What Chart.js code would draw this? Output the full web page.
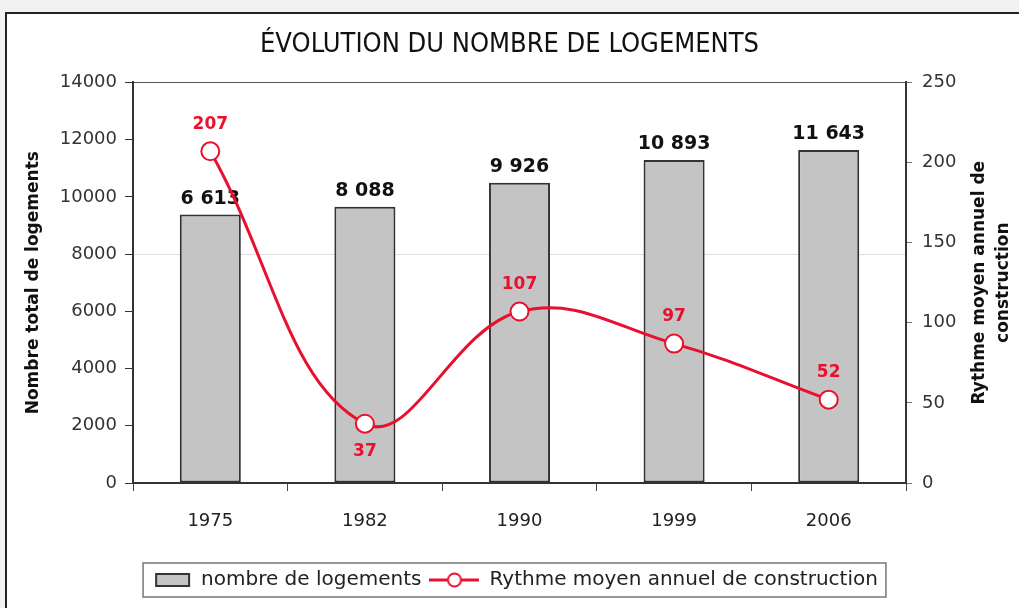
<!DOCTYPE html>
<html>
<head>
<meta charset="utf-8">
<script src="https://cdn.jsdelivr.net/npm/chart.js@4/dist/chart.umd.min.js"></script>
<style>
  html, body { margin: 0; padding: 0; background: #f1f1f1; }
  #frame { position: absolute; left: 5px; top: 12px; width: 1030px; height: 620px; border: 2px solid #222; background: #fff; }
  #wrap { position: absolute; left: 0; top: 0; width: 1019px; height: 608px; }
</style>
</head>
<body>
<div id="frame"></div>
<div id="wrap"><canvas id="myChart"></canvas></div>
<script>
const years = ["1975", "1982", "1990", "1999", "2006"];
// bar heights as drawn in the picture, and the labels printed above them
const logements = [9380, 9650, 10490, 11290, 11640];
const logementsLabels = ["6 613", "8 088", "9 926", "10 893", "11 643"];
const rythme = [207, 37, 107, 87, 52];
const rythmeLabels = ["207", "37", "107", "97", "52"];

const FONT = '"DejaVu Sans", sans-serif';
const RED = '#e8102e';

// legend swatches
function barSwatch() {
  const c = document.createElement('canvas');
  c.width = 50; c.height = 18;
  const g = c.getContext('2d');
  g.fillStyle = '#c4c4c4';
  g.fillRect(14, 2, 35, 14);
  g.strokeStyle = '#333';
  g.lineWidth = 2;
  g.strokeRect(15, 3, 33, 12);
  return c;
}
function lineSwatch() {
  const c = document.createElement('canvas');
  c.width = 50; c.height = 18;
  const g = c.getContext('2d');
  g.strokeStyle = RED;
  g.lineWidth = 3;
  g.beginPath(); g.moveTo(0, 9); g.lineTo(50, 9); g.stroke();
  g.fillStyle = '#fff';
  g.lineWidth = 2;
  g.beginPath(); g.arc(25, 9, 6.5, 0, Math.PI * 2); g.fill(); g.stroke();
  return c;
}
const swatches = [barSwatch(), lineSwatch()];

const valueLabels = {
  id: 'valueLabels',
  afterDatasetDraw(chart, args) {
    const ctx = chart.ctx;
    const meta = chart.getDatasetMeta(args.index);
    ctx.save();
    ctx.textAlign = 'center';
    if (args.index === 0) {
      ctx.font = 'bold 19px ' + FONT;
      ctx.fillStyle = '#111';
      ctx.textBaseline = 'alphabetic';
      meta.data.forEach((bar, i) => ctx.fillText(logementsLabels[i], bar.x, bar.y - 11));
    } else {
      ctx.font = 'bold 17px ' + FONT;
      ctx.fillStyle = RED;
      ctx.textBaseline = 'middle';
      meta.data.forEach((pt, i) => {
        const prev = rythme[i - 1], next = rythme[i + 1];
        const low = prev !== undefined && next !== undefined && rythme[i] < prev && rythme[i] < next;
        ctx.fillText(rythmeLabels[i], pt.x, low ? pt.y + 28 : pt.y - 27);
      });
    }
    ctx.restore();
  },
  afterDraw(chart) {
    const ctx = chart.ctx;
    const area = chart.chartArea;
    // right axis title, reading bottom to top
    ctx.save();
    ctx.translate(992, (area.top + area.bottom) / 2);
    ctx.rotate(-Math.PI / 2);
    ctx.font = 'bold 17px ' + FONT;
    ctx.fillStyle = '#111';
    ctx.textAlign = 'center';
    ctx.textBaseline = 'middle';
    ctx.fillText('Rythme moyen annuel de', 0, -12);
    ctx.fillText('construction', 0, 12);
    ctx.restore();
    // legend frame
    const boxes = chart.legend.legendHitBoxes;
    if (boxes && boxes.length) {
      const l = Math.min(...boxes.map(b => b.left)) + 2;
      const r = Math.max(...boxes.map(b => b.left + b.width)) + 8;
      const t = Math.min(...boxes.map(b => b.top)) - 7;
      const b = Math.max(...boxes.map(b => b.top + b.height)) + 7;
      ctx.save();
      ctx.strokeStyle = '#777';
      ctx.lineWidth = 1.5;
      ctx.strokeRect(l, t, r - l, b - t);
      ctx.restore();
    }
  }
};

const data = {
  labels: years,
  datasets: [{
    type: 'bar',
    label: 'nombre de logements',
    data: logements,
    yAxisID: 'y',
    backgroundColor: '#c4c4c4',
    borderColor: '#333',
    borderWidth: 2,
    borderSkipped: false,
    barPercentage: 0.395,
    categoryPercentage: 1,
    order: 1
  }, {
    type: 'line',
    label: 'Rythme moyen annuel de construction',
    data: rythme,
    yAxisID: 'y1',
    borderColor: RED,
    borderWidth: 3,
    tension: 0.4,
    pointRadius: 9,
    pointBackgroundColor: '#fff',
    pointBorderColor: RED,
    pointBorderWidth: 2,
    order: 0
  }]
};

const config = {
  data: data,
  plugins: [valueLabels],
  options: {
    responsive: true,
    maintainAspectRatio: false,
    animation: false,
    layout: { padding: { top: 0, left: 0, right: 0, bottom: 8 } },
    plugins: {
      tooltip: { enabled: false },
      title: {
        display: true,
        text: 'ÉVOLUTION DU NOMBRE DE LOGEMENTS',
        color: '#111',
        font: { family: '"Liberation Sans Narrow", "DejaVu Sans Condensed", sans-serif', size: 27, weight: 'normal' },
        padding: { top: 29, bottom: 21 }
      },
      legend: {
        position: 'bottom',
        labels: {
          usePointStyle: true,
          pointStyleWidth: 50,
          padding: 8,
          color: '#222',
          font: { family: FONT, size: 20 },
          sort: (a, b) => a.datasetIndex - b.datasetIndex,
          generateLabels(chart) {
            const items = Chart.defaults.plugins.legend.labels.generateLabels(chart);
            items.forEach(it => { it.pointStyle = swatches[it.datasetIndex]; });
            return items;
          }
        }
      }
    },
    scales: {
      x: {
        grid: { offset: true, drawOnChartArea: false, tickLength: 8, color: '#444' },
        border: { color: '#333', width: 2 },
        ticks: { color: '#222', font: { family: FONT, size: 18 }, padding: 20 },
        afterFit(s) { s.height = 79; }
      },
      y: {
        position: 'left',
        min: 0,
        max: 14000,
        ticks: { stepSize: 2000, color: '#333', font: { family: FONT, size: 18 }, padding: 8, callback: v => String(v) },
        grid: {
          color: c => c.tick && c.tick.value === 14000 ? '#555' : (c.tick && c.tick.value === 8000 ? '#dedede' : 'rgba(0,0,0,0)'),
          tickColor: '#333',
          tickLength: 8
        },
        border: { color: '#333', width: 2 },
        title: {
          display: true,
          text: 'Nombre total de logements',
          color: '#111',
          font: { family: FONT, size: 17, weight: 'bold' },
          padding: { top: 23, bottom: 0 }
        },
        afterFit(s) { s.width = 133; }
      },
      y1: {
        position: 'right',
        min: 0,
        max: 250,
        ticks: { stepSize: 50, color: '#333', font: { family: FONT, size: 18 }, padding: 10, callback: v => String(v) },
        grid: { drawOnChartArea: false, tickLength: 6, color: '#777' },
        border: { color: '#333', width: 2 },
        afterFit(s) { s.width = 113; }
      }
    }
  }
};

const myChart = new Chart(document.getElementById('myChart'), config);
</script>
</body>
</html>
